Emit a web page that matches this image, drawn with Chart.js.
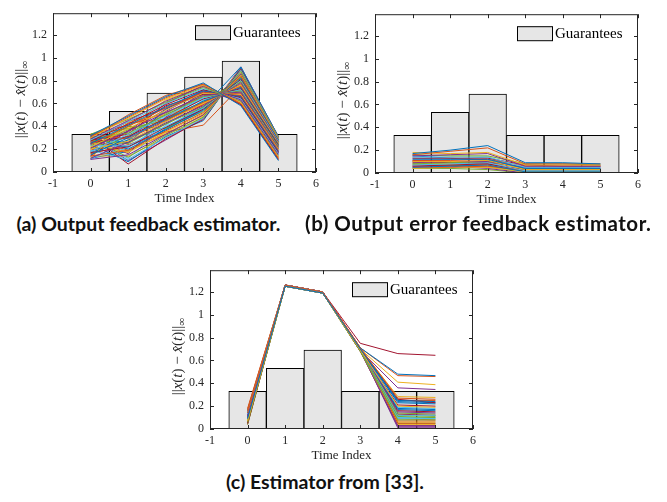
<!DOCTYPE html>
<html>
<head>
<meta charset="utf-8">
<script src="https://cdn.jsdelivr.net/npm/chart.js@4.4.1/dist/chart.umd.min.js"></script>
<style>
  body { margin: 0; background: #fff; width: 667px; height: 502px; overflow: hidden; position: relative; }
  .box { position: absolute; width: 330px; height: 207px; }
  .cap { position: absolute; font-family: Lato, "Open Sans", sans-serif; font-weight: 700; font-size: 19.5px; color: #111; white-space: nowrap; line-height: 24px; }
</style>
</head>
<body>
<div class="box" style="left:0px; top:0px;"><canvas id="chartA"></canvas></div>
<div class="box" style="left:322px; top:1px;"><canvas id="chartB"></canvas></div>
<div class="box" style="left:157px; top:257px;"><canvas id="chartC"></canvas></div>
<div class="cap" style="left:0px; width:297px; text-align:center; top:212px;">(a) Output feedback estimator.</div>
<div class="cap" style="left:305px; top:211px; font-size:20.5px; letter-spacing:0.5px;">(b) Output error feedback estimator.</div>
<div class="cap" style="left:125px; width:400px; text-align:center; top:470px;">(c) Estimator from [33].</div>
<script>
const times = [0, 1, 2, 3, 4, 5];
const guarA = [0.33, 0.53, 0.69, 0.83, 0.97, 0.33];
const guarB = [0.33, 0.53, 0.69, 0.33, 0.33, 0.33];
const guarC = [0.33, 0.53, 0.69, 0.33, 0.33, 0.33];

// estimation error runs (one row per run, t = 0..5)
const linesA = [
  [0.32, 0.49, 0.66, 0.78, 0.58, 0.10],
  [0.31, 0.48, 0.65, 0.77, 0.60, 0.12],
  [0.30, 0.47, 0.64, 0.76, 0.61, 0.13],
  [0.29, 0.45, 0.62, 0.75, 0.63, 0.15],
  [0.33, 0.46, 0.61, 0.74, 0.62, 0.14],
  [0.28, 0.44, 0.60, 0.73, 0.64, 0.16],
  [0.27, 0.42, 0.59, 0.72, 0.65, 0.17],
  [0.25, 0.41, 0.57, 0.71, 0.66, 0.18],
  [0.24, 0.40, 0.56, 0.70, 0.67, 0.19],
  [0.22, 0.38, 0.54, 0.69, 0.68, 0.20],
  [0.21, 0.36, 0.52, 0.67, 0.70, 0.21],
  [0.30, 0.34, 0.50, 0.66, 0.71, 0.22],
  [0.18, 0.33, 0.49, 0.65, 0.72, 0.22],
  [0.26, 0.31, 0.47, 0.64, 0.73, 0.23],
  [0.15, 0.30, 0.46, 0.62, 0.74, 0.24],
  [0.33, 0.29, 0.45, 0.61, 0.75, 0.24],
  [0.20, 0.27, 0.44, 0.60, 0.76, 0.25],
  [0.12, 0.26, 0.43, 0.58, 0.78, 0.26],
  [0.28, 0.25, 0.42, 0.57, 0.79, 0.26],
  [0.23, 0.23, 0.40, 0.56, 0.80, 0.27],
  [0.17, 0.22, 0.39, 0.55, 0.81, 0.27],
  [0.31, 0.20, 0.37, 0.54, 0.82, 0.28],
  [0.14, 0.19, 0.36, 0.52, 0.84, 0.28],
  [0.26, 0.17, 0.35, 0.51, 0.85, 0.29],
  [0.11, 0.15, 0.33, 0.50, 0.86, 0.29],
  [0.29, 0.13, 0.32, 0.48, 0.88, 0.30],
  [0.19, 0.11, 0.30, 0.47, 0.89, 0.30],
  [0.32, 0.07, 0.29, 0.46, 0.90, 0.30],
  [0.24, 0.09, 0.31, 0.45, 0.91, 0.29],
  [0.16, 0.24, 0.35, 0.41, 0.75, 0.22],
  [0.12, 0.44, 0.50, 0.60, 0.76, 0.25],
  [0.30, 0.16, 0.48, 0.70, 0.66, 0.17],
  [0.20, 0.40, 0.38, 0.53, 0.83, 0.28],
  [0.27, 0.12, 0.41, 0.63, 0.74, 0.23],
  [0.14, 0.36, 0.58, 0.68, 0.69, 0.20],
  [0.32, 0.25, 0.55, 0.72, 0.64, 0.16],
  [0.18, 0.43, 0.46, 0.59, 0.77, 0.25],
  [0.22, 0.18, 0.34, 0.49, 0.87, 0.29],
  [0.25, 0.30, 0.53, 0.71, 0.62, 0.13],
  [0.33, 0.38, 0.45, 0.62, 0.80, 0.26],
  [0.13, 0.21, 0.44, 0.66, 0.71, 0.21],
  [0.28, 0.33, 0.60, 0.76, 0.59, 0.11],
  [0.17, 0.28, 0.39, 0.57, 0.92, 0.31],
  [0.30, 0.50, 0.67, 0.77, 0.59, 0.11],
  [0.26, 0.39, 0.63, 0.75, 0.60, 0.12],
  [0.21, 0.35, 0.55, 0.70, 0.66, 0.18],
  [0.16, 0.32, 0.51, 0.68, 0.70, 0.20],
  [0.11, 0.28, 0.48, 0.64, 0.73, 0.24],
  [0.19, 0.26, 0.42, 0.59, 0.83, 0.28],
  [0.25, 0.22, 0.37, 0.55, 0.86, 0.29],
  [0.29, 0.19, 0.33, 0.50, 0.89, 0.31],
  [0.14, 0.14, 0.30, 0.48, 0.91, 0.30],
  [0.31, 0.10, 0.28, 0.47, 0.92, 0.31],
  [0.23, 0.37, 0.47, 0.61, 0.79, 0.27],
  [0.18, 0.31, 0.50, 0.65, 0.75, 0.24],
  [0.27, 0.44, 0.56, 0.68, 0.67, 0.18],
  [0.12, 0.18, 0.38, 0.56, 0.85, 0.28],
  [0.33, 0.41, 0.52, 0.66, 0.72, 0.22]
];

const linesB = [
  [0.17, 0.20, 0.24, 0.09, 0.09, 0.08],
  [0.16, 0.19, 0.22, 0.08, 0.08, 0.08],
  [0.18, 0.17, 0.18, 0.07, 0.07, 0.07],
  [0.15, 0.16, 0.17, 0.06, 0.06, 0.06],
  [0.16, 0.15, 0.15, 0.08, 0.08, 0.07],
  [0.14, 0.14, 0.14, 0.05, 0.05, 0.05],
  [0.13, 0.13, 0.13, 0.07, 0.06, 0.06],
  [0.12, 0.12, 0.12, 0.04, 0.04, 0.04],
  [0.11, 0.11, 0.12, 0.06, 0.06, 0.06],
  [0.10, 0.10, 0.11, 0.03, 0.03, 0.03],
  [0.09, 0.10, 0.10, 0.05, 0.05, 0.05],
  [0.08, 0.09, 0.10, 0.04, 0.04, 0.04],
  [0.07, 0.08, 0.09, 0.02, 0.02, 0.02],
  [0.06, 0.07, 0.08, 0.03, 0.03, 0.03],
  [0.05, 0.06, 0.07, 0.01, 0.01, 0.01],
  [0.05, 0.05, 0.06, 0.02, 0.02, 0.02],
  [0.04, 0.05, 0.05, 0.01, 0.01, 0.01],
  [0.06, 0.06, 0.04, 0.00, 0.00, 0.00],
  [0.08, 0.07, 0.05, 0.01, 0.01, 0.01],
  [0.13, 0.12, 0.14, 0.03, 0.03, 0.02],
  [0.10, 0.09, 0.08, 0.02, 0.02, 0.01],
  [0.15, 0.13, 0.11, 0.04, 0.04, 0.03],
  [0.07, 0.07, 0.06, 0.02, 0.02, 0.02],
  [0.09, 0.08, 0.07, 0.03, 0.03, 0.02],
  [0.11, 0.10, 0.09, 0.05, 0.05, 0.04],
  [0.04, 0.04, 0.03, 0.00, 0.00, 0.00]
];

const linesC = [
  [0.09, 1.25, 1.19, 0.70, 0.25, 0.24],
  [0.14, 1.26, 1.20, 0.71, 0.27, 0.26],
  [0.07, 1.25, 1.19, 0.69, 0.20, 0.19],
  [0.11, 1.25, 1.19, 0.70, 0.15, 0.14],
  [0.06, 1.25, 1.19, 0.69, 0.11, 0.10],
  [0.13, 1.26, 1.20, 0.70, 0.12, 0.12],
  [0.05, 1.26, 1.20, 0.75, 0.66, 0.645],
  [0.10, 1.25, 1.19, 0.71, 0.48, 0.467],
  [0.16, 1.26, 1.20, 0.71, 0.467, 0.459],
  [0.08, 1.25, 1.19, 0.70, 0.41, 0.388],
  [0.12, 1.26, 1.20, 0.69, 0.36, 0.346],
  [0.04, 1.25, 1.19, 0.68, 0.08, 0.08],
  [0.15, 1.25, 1.19, 0.69, 0.10, 0.09],
  [0.06, 1.26, 1.20, 0.70, 0.26, 0.23],
  [0.09, 1.25, 1.19, 0.69, 0.18, 0.17],
  [0.17, 1.26, 1.20, 0.71, 0.05, 0.05],
  [0.10, 1.25, 1.19, 0.70, 0.284, 0.276],
  [0.05, 1.25, 1.19, 0.68, 0.03, 0.03],
  [0.14, 1.26, 1.20, 0.70, 0.14, 0.13],
  [0.08, 1.25, 1.19, 0.69, 0.09, 0.09],
  [0.11, 1.26, 1.20, 0.70, 0.16, 0.15],
  [0.07, 1.25, 1.19, 0.69, 0.24, 0.23],
  [0.18, 1.26, 1.20, 0.71, 0.25, 0.25],
  [0.06, 1.25, 1.19, 0.68, 0.06, 0.06],
  [0.13, 1.26, 1.20, 0.70, 0.02, 0.02],
  [0.09, 1.25, 1.19, 0.69, 0.12, 0.11],
  [0.12, 1.25, 1.19, 0.70, 0.19, 0.18],
  [0.04, 1.26, 1.20, 0.68, 0.13, 0.12],
  [0.15, 1.25, 1.19, 0.70, 0.17, 0.16],
  [0.10, 1.26, 1.20, 0.69, 0.07, 0.07],
  [0.05, 1.25, 1.19, 0.68, 0.04, 0.04],
  [0.11, 1.25, 1.19, 0.69, 0.01, 0.01],
  [0.08, 1.25, 1.19, 0.69, 0.05, 0.05],
  [0.14, 1.26, 1.20, 0.70, 0.10, 0.10],
  [0.07, 1.26, 1.20, 0.69, 0.21, 0.20],
  [0.16, 1.25, 1.19, 0.70, 0.23, 0.22],
  [0.06, 1.26, 1.20, 0.69, 0.09, 0.08],
  [0.12, 1.25, 1.19, 0.70, 0.03, 0.03]
];

// matlab default line colours
const palette = ["#0072BD", "#D95319", "#EDB120", "#7E2F8E", "#77AC30", "#4DBEEE", "#A2142F"];
const serif = "'Liberation Serif', 'Times New Roman', serif";

// pieces of the y label: ||x(t) - x^(t)||_inf
const yLabel = [
  ["||", 0], ["x", 1], ["(", 0], ["t", 1], [")", 0], [" \u2212 ", 0],
  ["x\u0302", 1], ["(", 0], ["t", 1], [")", 0], ["||", 0], ["\u221E", 2]
];

// box around the axes, inward ticks, axis titles and the legend inside the plot
const frame = {
  id: "frame",
  afterDatasetsDraw(chart) {
    const { ctx, chartArea: a, scales } = chart;
    ctx.save();
    ctx.strokeStyle = "#262626";
    ctx.lineWidth = 1;
    ctx.strokeRect(a.left + 0.5, a.top + 0.5, a.width - 1, a.height - 1);
    ctx.beginPath();
    scales.x.ticks.forEach(t => {
      const px = Math.round(scales.x.getPixelForValue(t.value)) + 0.5;
      ctx.moveTo(px, a.bottom); ctx.lineTo(px, a.bottom - 4);
      ctx.moveTo(px, a.top); ctx.lineTo(px, a.top + 4);
    });
    scales.y.ticks.forEach(t => {
      const py = Math.round(scales.y.getPixelForValue(t.value)) + 0.5;
      ctx.moveTo(a.left, py); ctx.lineTo(a.left + 4, py);
      ctx.moveTo(a.right, py); ctx.lineTo(a.right - 4, py);
    });
    ctx.stroke();

    // legend
    const bx = a.right - 121, by = a.top + 12;
    ctx.fillStyle = "#e6e6e6";
    ctx.fillRect(bx, by, 35, 14);
    ctx.strokeStyle = "#000";
    ctx.strokeRect(bx + 0.5, by + 0.5, 35, 14);
    ctx.fillStyle = "#000";
    ctx.font = "15px " + serif;
    ctx.textBaseline = "middle";
    ctx.fillText(chart.data.datasets[0].label, bx + 38, by + 8);

    // x title
    ctx.fillStyle = "#262626";
    ctx.font = "13px " + serif;
    ctx.textAlign = "center";
    ctx.fillText("Time Index", (a.left + a.right) / 2, a.bottom + 27);

    // y title, rotated
    const fonts = ["15px " + serif, "italic 15px " + serif, "11px " + serif];
    let total = 0;
    yLabel.forEach(p => { ctx.font = fonts[p[1]]; total += ctx.measureText(p[0]).width; });
    ctx.translate(a.left - 33, (a.top + a.bottom) / 2 + 7);
    ctx.rotate(-Math.PI / 2);
    ctx.textAlign = "left";
    ctx.textBaseline = "alphabetic";
    let cx = -total / 2;
    yLabel.forEach(p => {
      ctx.font = fonts[p[1]];
      ctx.fillText(p[0], cx, p[1] === 2 ? 8 : 5);
      cx += ctx.measureText(p[0]).width;
    });
    ctx.restore();
  }
};

function makeChart(id, guar, lines) {
  const datasets = [{
    type: "bar",
    label: "Guarantees",
    data: times.map((t, i) => ({ x: t, y: guar[i] })),
    backgroundColor: "#e6e6e6",
    borderColor: "#000",
    borderWidth: 1,
    borderSkipped: false,
    barPercentage: 1,
    categoryPercentage: 1,
    order: 1
  }];
  lines.forEach((run, i) => {
    datasets.push({
      type: "line",
      label: "run " + (i + 1),
      data: times.map((t, j) => ({ x: t, y: run[j] })),
      borderColor: palette[i % palette.length],
      borderWidth: 1,
      pointRadius: 0,
      tension: 0,
      fill: false,
      order: 0
    });
  });

  return new Chart(document.getElementById(id).getContext("2d"), {
    type: "bar",
    data: { datasets: datasets },
    options: {
      responsive: true,
      maintainAspectRatio: false,
      animation: false,
      layout: { padding: { left: 0, right: 14, top: 3, bottom: 0 } },
      scales: {
        x: {
          type: "linear",
          min: -1,
          max: 6,
          offset: false,
          grid: { display: false, drawTicks: false },
          border: { display: false },
          ticks: { stepSize: 1, padding: 5, color: "#262626", font: { family: serif, size: 12 } },
          afterFit: s => { s.height = 35; }
        },
        y: {
          min: 0,
          max: 1.39,
          grid: { display: false, drawTicks: false },
          border: { display: false },
          afterBuildTicks: s => { s.ticks = s.ticks.filter(t => t.value <= 1.2001); },
          ticks: {
            stepSize: 0.2,
            padding: 6,
            color: "#262626",
            font: { family: serif, size: 12 },
            callback: v => String(+v.toFixed(2))
          },
          afterFit: s => { s.width = 53; }
        }
      },
      plugins: {
        legend: { display: false },
        tooltip: { enabled: false }
      }
    },
    plugins: [frame]
  });
}

makeChart("chartA", guarA, linesA);
makeChart("chartB", guarB, linesB);
makeChart("chartC", guarC, linesC);
</script>
</body>
</html>
